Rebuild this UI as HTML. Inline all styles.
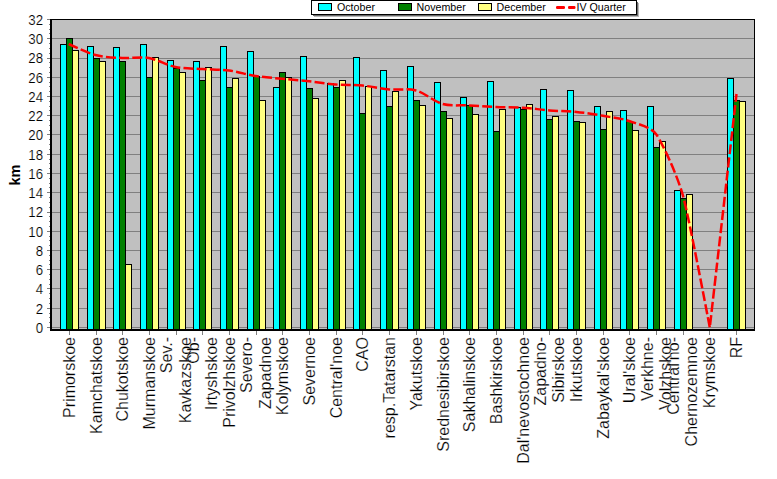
<!DOCTYPE html><html><head><meta charset="utf-8"><style>html,body{margin:0;padding:0;background:#fff;width:777px;height:479px;overflow:hidden;position:relative}</style></head><body><svg width="777" height="479" viewBox="0 0 777 479" style="position:absolute;left:0;top:0"><defs><clipPath id="pc"><rect x="52" y="20" width="702" height="309"/></clipPath></defs><g shape-rendering="crispEdges"><rect x="52" y="19" width="702" height="310" fill="#c0c0c0"/><rect x="52" y="327" width="702" height="1" fill="#808080"/><rect x="52" y="308" width="702" height="1" fill="#808080"/><rect x="52" y="288" width="702" height="1" fill="#808080"/><rect x="52" y="269" width="702" height="1" fill="#808080"/><rect x="52" y="250" width="702" height="1" fill="#808080"/><rect x="52" y="231" width="702" height="1" fill="#808080"/><rect x="52" y="212" width="702" height="1" fill="#808080"/><rect x="52" y="192" width="702" height="1" fill="#808080"/><rect x="52" y="173" width="702" height="1" fill="#808080"/><rect x="52" y="154" width="702" height="1" fill="#808080"/><rect x="52" y="134" width="702" height="1" fill="#808080"/><rect x="52" y="115" width="702" height="1" fill="#808080"/><rect x="52" y="96" width="702" height="1" fill="#808080"/><rect x="52" y="77" width="702" height="1" fill="#808080"/><rect x="52" y="58" width="702" height="1" fill="#808080"/><rect x="52" y="38" width="702" height="1" fill="#808080"/><rect x="52" y="19" width="702" height="1" fill="#808080"/><rect x="60" y="44" width="7" height="285" fill="#000"/><rect x="61" y="45" width="5" height="284" fill="#00ffff"/><rect x="66" y="38" width="7" height="291" fill="#000"/><rect x="67" y="39" width="5" height="290" fill="#008000"/><rect x="72" y="50" width="7" height="279" fill="#000"/><rect x="73" y="51" width="5" height="278" fill="#ffff80"/><rect x="87" y="46" width="7" height="283" fill="#000"/><rect x="88" y="47" width="5" height="282" fill="#00ffff"/><rect x="93" y="58" width="7" height="271" fill="#000"/><rect x="94" y="59" width="5" height="270" fill="#008000"/><rect x="99" y="61" width="7" height="268" fill="#000"/><rect x="100" y="62" width="5" height="267" fill="#ffff80"/><rect x="113" y="47" width="7" height="282" fill="#000"/><rect x="114" y="48" width="5" height="281" fill="#00ffff"/><rect x="119" y="61" width="7" height="268" fill="#000"/><rect x="120" y="62" width="5" height="267" fill="#008000"/><rect x="125" y="264" width="7" height="65" fill="#000"/><rect x="126" y="265" width="5" height="64" fill="#ffff80"/><rect x="140" y="44" width="7" height="285" fill="#000"/><rect x="141" y="45" width="5" height="284" fill="#00ffff"/><rect x="146" y="77" width="7" height="252" fill="#000"/><rect x="147" y="78" width="5" height="251" fill="#008000"/><rect x="152" y="57" width="7" height="272" fill="#000"/><rect x="153" y="58" width="5" height="271" fill="#ffff80"/><rect x="167" y="60" width="7" height="269" fill="#000"/><rect x="168" y="61" width="5" height="268" fill="#00ffff"/><rect x="173" y="68" width="7" height="261" fill="#000"/><rect x="174" y="69" width="5" height="260" fill="#008000"/><rect x="179" y="72" width="7" height="257" fill="#000"/><rect x="180" y="73" width="5" height="256" fill="#ffff80"/><rect x="193" y="61" width="7" height="268" fill="#000"/><rect x="194" y="62" width="5" height="267" fill="#00ffff"/><rect x="199" y="80" width="7" height="249" fill="#000"/><rect x="200" y="81" width="5" height="248" fill="#008000"/><rect x="205" y="67" width="7" height="262" fill="#000"/><rect x="206" y="68" width="5" height="261" fill="#ffff80"/><rect x="220" y="46" width="7" height="283" fill="#000"/><rect x="221" y="47" width="5" height="282" fill="#00ffff"/><rect x="226" y="87" width="7" height="242" fill="#000"/><rect x="227" y="88" width="5" height="241" fill="#008000"/><rect x="232" y="78" width="7" height="251" fill="#000"/><rect x="233" y="79" width="5" height="250" fill="#ffff80"/><rect x="247" y="51" width="7" height="278" fill="#000"/><rect x="248" y="52" width="5" height="277" fill="#00ffff"/><rect x="253" y="76" width="7" height="253" fill="#000"/><rect x="254" y="77" width="5" height="252" fill="#008000"/><rect x="259" y="100" width="7" height="229" fill="#000"/><rect x="260" y="101" width="5" height="228" fill="#ffff80"/><rect x="273" y="87" width="7" height="242" fill="#000"/><rect x="274" y="88" width="5" height="241" fill="#00ffff"/><rect x="279" y="72" width="7" height="257" fill="#000"/><rect x="280" y="73" width="5" height="256" fill="#008000"/><rect x="285" y="77" width="7" height="252" fill="#000"/><rect x="286" y="78" width="5" height="251" fill="#ffff80"/><rect x="300" y="56" width="7" height="273" fill="#000"/><rect x="301" y="57" width="5" height="272" fill="#00ffff"/><rect x="306" y="88" width="7" height="241" fill="#000"/><rect x="307" y="89" width="5" height="240" fill="#008000"/><rect x="312" y="98" width="7" height="231" fill="#000"/><rect x="313" y="99" width="5" height="230" fill="#ffff80"/><rect x="327" y="83" width="7" height="246" fill="#000"/><rect x="328" y="84" width="5" height="245" fill="#00ffff"/><rect x="333" y="87" width="7" height="242" fill="#000"/><rect x="334" y="88" width="5" height="241" fill="#008000"/><rect x="339" y="80" width="7" height="249" fill="#000"/><rect x="340" y="81" width="5" height="248" fill="#ffff80"/><rect x="353" y="57" width="7" height="272" fill="#000"/><rect x="354" y="58" width="5" height="271" fill="#00ffff"/><rect x="359" y="113" width="7" height="216" fill="#000"/><rect x="360" y="114" width="5" height="215" fill="#008000"/><rect x="365" y="86" width="7" height="243" fill="#000"/><rect x="366" y="87" width="5" height="242" fill="#ffff80"/><rect x="380" y="70" width="7" height="259" fill="#000"/><rect x="381" y="71" width="5" height="258" fill="#00ffff"/><rect x="386" y="106" width="7" height="223" fill="#000"/><rect x="387" y="107" width="5" height="222" fill="#008000"/><rect x="392" y="91" width="7" height="238" fill="#000"/><rect x="393" y="92" width="5" height="237" fill="#ffff80"/><rect x="407" y="66" width="7" height="263" fill="#000"/><rect x="408" y="67" width="5" height="262" fill="#00ffff"/><rect x="413" y="100" width="7" height="229" fill="#000"/><rect x="414" y="101" width="5" height="228" fill="#008000"/><rect x="419" y="105" width="7" height="224" fill="#000"/><rect x="420" y="106" width="5" height="223" fill="#ffff80"/><rect x="434" y="82" width="7" height="247" fill="#000"/><rect x="435" y="83" width="5" height="246" fill="#00ffff"/><rect x="440" y="111" width="7" height="218" fill="#000"/><rect x="441" y="112" width="5" height="217" fill="#008000"/><rect x="446" y="118" width="7" height="211" fill="#000"/><rect x="447" y="119" width="5" height="210" fill="#ffff80"/><rect x="460" y="97" width="7" height="232" fill="#000"/><rect x="461" y="98" width="5" height="231" fill="#00ffff"/><rect x="466" y="105" width="7" height="224" fill="#000"/><rect x="467" y="106" width="5" height="223" fill="#008000"/><rect x="472" y="114" width="7" height="215" fill="#000"/><rect x="473" y="115" width="5" height="214" fill="#ffff80"/><rect x="487" y="81" width="7" height="248" fill="#000"/><rect x="488" y="82" width="5" height="247" fill="#00ffff"/><rect x="493" y="131" width="7" height="198" fill="#000"/><rect x="494" y="132" width="5" height="197" fill="#008000"/><rect x="499" y="109" width="7" height="220" fill="#000"/><rect x="500" y="110" width="5" height="219" fill="#ffff80"/><rect x="514" y="107" width="7" height="222" fill="#000"/><rect x="515" y="108" width="5" height="221" fill="#00ffff"/><rect x="520" y="109" width="7" height="220" fill="#000"/><rect x="521" y="110" width="5" height="219" fill="#008000"/><rect x="526" y="104" width="7" height="225" fill="#000"/><rect x="527" y="105" width="5" height="224" fill="#ffff80"/><rect x="540" y="89" width="7" height="240" fill="#000"/><rect x="541" y="90" width="5" height="239" fill="#00ffff"/><rect x="546" y="119" width="7" height="210" fill="#000"/><rect x="547" y="120" width="5" height="209" fill="#008000"/><rect x="552" y="116" width="7" height="213" fill="#000"/><rect x="553" y="117" width="5" height="212" fill="#ffff80"/><rect x="567" y="90" width="7" height="239" fill="#000"/><rect x="568" y="91" width="5" height="238" fill="#00ffff"/><rect x="573" y="121" width="7" height="208" fill="#000"/><rect x="574" y="122" width="5" height="207" fill="#008000"/><rect x="579" y="122" width="7" height="207" fill="#000"/><rect x="580" y="123" width="5" height="206" fill="#ffff80"/><rect x="594" y="106" width="7" height="223" fill="#000"/><rect x="595" y="107" width="5" height="222" fill="#00ffff"/><rect x="600" y="129" width="7" height="200" fill="#000"/><rect x="601" y="130" width="5" height="199" fill="#008000"/><rect x="606" y="111" width="7" height="218" fill="#000"/><rect x="607" y="112" width="5" height="217" fill="#ffff80"/><rect x="620" y="110" width="7" height="219" fill="#000"/><rect x="621" y="111" width="5" height="218" fill="#00ffff"/><rect x="626" y="121" width="7" height="208" fill="#000"/><rect x="627" y="122" width="5" height="207" fill="#008000"/><rect x="632" y="130" width="7" height="199" fill="#000"/><rect x="633" y="131" width="5" height="198" fill="#ffff80"/><rect x="647" y="106" width="7" height="223" fill="#000"/><rect x="648" y="107" width="5" height="222" fill="#00ffff"/><rect x="653" y="147" width="7" height="182" fill="#000"/><rect x="654" y="148" width="5" height="181" fill="#008000"/><rect x="659" y="141" width="7" height="188" fill="#000"/><rect x="660" y="142" width="5" height="187" fill="#ffff80"/><rect x="674" y="190" width="7" height="139" fill="#000"/><rect x="675" y="191" width="5" height="138" fill="#00ffff"/><rect x="680" y="198" width="7" height="131" fill="#000"/><rect x="681" y="199" width="5" height="130" fill="#008000"/><rect x="686" y="194" width="7" height="135" fill="#000"/><rect x="687" y="195" width="5" height="134" fill="#ffff80"/><rect x="727" y="78" width="7" height="251" fill="#000"/><rect x="728" y="79" width="5" height="250" fill="#00ffff"/><rect x="733" y="100" width="7" height="229" fill="#000"/><rect x="734" y="101" width="5" height="228" fill="#008000"/><rect x="739" y="101" width="7" height="228" fill="#000"/><rect x="740" y="102" width="5" height="227" fill="#ffff80"/><rect x="52" y="19" width="703" height="1" fill="#000"/><rect x="754" y="19" width="1" height="311" fill="#000"/><rect x="50" y="19" width="2" height="312" fill="#000"/><rect x="50" y="329" width="705" height="2" fill="#000"/><rect x="47" y="327" width="3" height="1" fill="#808080"/><rect x="47" y="308" width="3" height="1" fill="#808080"/><rect x="47" y="288" width="3" height="1" fill="#808080"/><rect x="47" y="269" width="3" height="1" fill="#808080"/><rect x="47" y="250" width="3" height="1" fill="#808080"/><rect x="47" y="231" width="3" height="1" fill="#808080"/><rect x="47" y="212" width="3" height="1" fill="#808080"/><rect x="47" y="192" width="3" height="1" fill="#808080"/><rect x="47" y="173" width="3" height="1" fill="#808080"/><rect x="47" y="154" width="3" height="1" fill="#808080"/><rect x="47" y="134" width="3" height="1" fill="#808080"/><rect x="47" y="115" width="3" height="1" fill="#808080"/><rect x="47" y="96" width="3" height="1" fill="#808080"/><rect x="47" y="77" width="3" height="1" fill="#808080"/><rect x="47" y="58" width="3" height="1" fill="#808080"/><rect x="47" y="38" width="3" height="1" fill="#808080"/><rect x="47" y="19" width="3" height="1" fill="#808080"/><rect x="49" y="322" width="1" height="1" fill="#808080"/><rect x="49" y="317" width="1" height="1" fill="#808080"/><rect x="49" y="313" width="1" height="1" fill="#808080"/><rect x="49" y="303" width="1" height="1" fill="#808080"/><rect x="49" y="298" width="1" height="1" fill="#808080"/><rect x="49" y="293" width="1" height="1" fill="#808080"/><rect x="49" y="284" width="1" height="1" fill="#808080"/><rect x="49" y="279" width="1" height="1" fill="#808080"/><rect x="49" y="274" width="1" height="1" fill="#808080"/><rect x="49" y="264" width="1" height="1" fill="#808080"/><rect x="49" y="260" width="1" height="1" fill="#808080"/><rect x="49" y="255" width="1" height="1" fill="#808080"/><rect x="49" y="245" width="1" height="1" fill="#808080"/><rect x="49" y="240" width="1" height="1" fill="#808080"/><rect x="49" y="236" width="1" height="1" fill="#808080"/><rect x="49" y="226" width="1" height="1" fill="#808080"/><rect x="49" y="221" width="1" height="1" fill="#808080"/><rect x="49" y="216" width="1" height="1" fill="#808080"/><rect x="49" y="207" width="1" height="1" fill="#808080"/><rect x="49" y="202" width="1" height="1" fill="#808080"/><rect x="49" y="197" width="1" height="1" fill="#808080"/><rect x="49" y="187" width="1" height="1" fill="#808080"/><rect x="49" y="183" width="1" height="1" fill="#808080"/><rect x="49" y="178" width="1" height="1" fill="#808080"/><rect x="49" y="168" width="1" height="1" fill="#808080"/><rect x="49" y="163" width="1" height="1" fill="#808080"/><rect x="49" y="159" width="1" height="1" fill="#808080"/><rect x="49" y="149" width="1" height="1" fill="#808080"/><rect x="49" y="144" width="1" height="1" fill="#808080"/><rect x="49" y="139" width="1" height="1" fill="#808080"/><rect x="49" y="130" width="1" height="1" fill="#808080"/><rect x="49" y="125" width="1" height="1" fill="#808080"/><rect x="49" y="120" width="1" height="1" fill="#808080"/><rect x="49" y="110" width="1" height="1" fill="#808080"/><rect x="49" y="106" width="1" height="1" fill="#808080"/><rect x="49" y="101" width="1" height="1" fill="#808080"/><rect x="49" y="91" width="1" height="1" fill="#808080"/><rect x="49" y="86" width="1" height="1" fill="#808080"/><rect x="49" y="82" width="1" height="1" fill="#808080"/><rect x="49" y="72" width="1" height="1" fill="#808080"/><rect x="49" y="67" width="1" height="1" fill="#808080"/><rect x="49" y="62" width="1" height="1" fill="#808080"/><rect x="49" y="53" width="1" height="1" fill="#808080"/><rect x="49" y="48" width="1" height="1" fill="#808080"/><rect x="49" y="43" width="1" height="1" fill="#808080"/><rect x="49" y="33" width="1" height="1" fill="#808080"/><rect x="49" y="29" width="1" height="1" fill="#808080"/><rect x="49" y="24" width="1" height="1" fill="#808080"/><rect x="69" y="331" width="1" height="4" fill="#808080"/><rect x="96" y="331" width="1" height="4" fill="#808080"/><rect x="122" y="331" width="1" height="4" fill="#808080"/><rect x="149" y="331" width="1" height="4" fill="#808080"/><rect x="176" y="331" width="1" height="4" fill="#808080"/><rect x="202" y="331" width="1" height="4" fill="#808080"/><rect x="229" y="331" width="1" height="4" fill="#808080"/><rect x="256" y="331" width="1" height="4" fill="#808080"/><rect x="282" y="331" width="1" height="4" fill="#808080"/><rect x="309" y="331" width="1" height="4" fill="#808080"/><rect x="336" y="331" width="1" height="4" fill="#808080"/><rect x="362" y="331" width="1" height="4" fill="#808080"/><rect x="389" y="331" width="1" height="4" fill="#808080"/><rect x="416" y="331" width="1" height="4" fill="#808080"/><rect x="443" y="331" width="1" height="4" fill="#808080"/><rect x="469" y="331" width="1" height="4" fill="#808080"/><rect x="496" y="331" width="1" height="4" fill="#808080"/><rect x="523" y="331" width="1" height="4" fill="#808080"/><rect x="549" y="331" width="1" height="4" fill="#808080"/><rect x="576" y="331" width="1" height="4" fill="#808080"/><rect x="603" y="331" width="1" height="4" fill="#808080"/><rect x="629" y="331" width="1" height="4" fill="#808080"/><rect x="656" y="331" width="1" height="4" fill="#808080"/><rect x="683" y="331" width="1" height="4" fill="#808080"/><rect x="709" y="331" width="1" height="4" fill="#808080"/><rect x="736" y="331" width="1" height="4" fill="#808080"/></g><path d="M68.70,44.00 C68.70,44.00 86.83,52.75 95.41,55.00 C104.00,57.25 113.25,57.50 122.12,58.00 C131.00,58.50 140.17,56.54 148.84,58.00 C157.50,59.46 166.87,65.21 175.55,67.00 C184.23,68.79 193.36,68.42 202.26,69.00 C211.16,69.58 220.15,69.34 228.97,70.50 C237.79,71.66 246.85,74.63 255.68,76.00 C264.52,77.37 273.50,77.92 282.40,78.80 C291.30,79.68 300.22,80.35 309.11,81.30 C318.00,82.25 326.94,83.79 335.82,84.50 C344.70,85.21 353.67,84.79 362.53,85.60 C371.40,86.41 380.38,88.59 389.24,89.40 C398.11,90.21 407.55,88.20 415.96,90.50 C424.36,92.80 434.26,101.66 442.67,104.00 C451.07,106.34 460.48,104.90 469.38,105.40 C478.28,105.90 487.19,106.62 496.09,107.00 C504.99,107.38 513.92,107.13 522.80,107.70 C531.69,108.27 540.63,109.70 549.52,110.40 C558.40,111.10 567.36,111.00 576.23,111.90 C585.09,112.80 594.08,114.26 602.94,115.80 C611.80,117.34 621.15,118.22 629.65,121.20 C638.15,124.18 650.88,126.82 656.36,134.50 C661.85,142.18 677.14,174.56 683.08,196.00 C689.01,217.44 709.79,327.50 709.79,327.50 C709.79,327.50 736.50,94.00 736.50,94.00" fill="none" stroke="#ff0000" stroke-width="2.5" stroke-dasharray="10 3.2" clip-path="url(#pc)"/><text transform="translate(43,332.80) scale(0.855,1)" text-anchor="end" font-family="Liberation Sans" font-size="15.5" fill="#000" stroke="#fff" stroke-width="0.18">0</text><text transform="translate(43,313.55) scale(0.855,1)" text-anchor="end" font-family="Liberation Sans" font-size="15.5" fill="#000" stroke="#fff" stroke-width="0.18">2</text><text transform="translate(43,294.30) scale(0.855,1)" text-anchor="end" font-family="Liberation Sans" font-size="15.5" fill="#000" stroke="#fff" stroke-width="0.18">4</text><text transform="translate(43,275.05) scale(0.855,1)" text-anchor="end" font-family="Liberation Sans" font-size="15.5" fill="#000" stroke="#fff" stroke-width="0.18">6</text><text transform="translate(43,255.80) scale(0.855,1)" text-anchor="end" font-family="Liberation Sans" font-size="15.5" fill="#000" stroke="#fff" stroke-width="0.18">8</text><text transform="translate(43,236.55) scale(0.855,1)" text-anchor="end" font-family="Liberation Sans" font-size="15.5" fill="#000" stroke="#fff" stroke-width="0.18">10</text><text transform="translate(43,217.30) scale(0.855,1)" text-anchor="end" font-family="Liberation Sans" font-size="15.5" fill="#000" stroke="#fff" stroke-width="0.18">12</text><text transform="translate(43,198.05) scale(0.855,1)" text-anchor="end" font-family="Liberation Sans" font-size="15.5" fill="#000" stroke="#fff" stroke-width="0.18">14</text><text transform="translate(43,178.80) scale(0.855,1)" text-anchor="end" font-family="Liberation Sans" font-size="15.5" fill="#000" stroke="#fff" stroke-width="0.18">16</text><text transform="translate(43,159.55) scale(0.855,1)" text-anchor="end" font-family="Liberation Sans" font-size="15.5" fill="#000" stroke="#fff" stroke-width="0.18">18</text><text transform="translate(43,140.30) scale(0.855,1)" text-anchor="end" font-family="Liberation Sans" font-size="15.5" fill="#000" stroke="#fff" stroke-width="0.18">20</text><text transform="translate(43,121.05) scale(0.855,1)" text-anchor="end" font-family="Liberation Sans" font-size="15.5" fill="#000" stroke="#fff" stroke-width="0.18">22</text><text transform="translate(43,101.80) scale(0.855,1)" text-anchor="end" font-family="Liberation Sans" font-size="15.5" fill="#000" stroke="#fff" stroke-width="0.18">24</text><text transform="translate(43,82.55) scale(0.855,1)" text-anchor="end" font-family="Liberation Sans" font-size="15.5" fill="#000" stroke="#fff" stroke-width="0.18">26</text><text transform="translate(43,63.30) scale(0.855,1)" text-anchor="end" font-family="Liberation Sans" font-size="15.5" fill="#000" stroke="#fff" stroke-width="0.18">28</text><text transform="translate(43,44.05) scale(0.855,1)" text-anchor="end" font-family="Liberation Sans" font-size="15.5" fill="#000" stroke="#fff" stroke-width="0.18">30</text><text transform="translate(43,24.80) scale(0.855,1)" text-anchor="end" font-family="Liberation Sans" font-size="15.5" fill="#000" stroke="#fff" stroke-width="0.18">32</text><text transform="translate(20,175) rotate(-90)" text-anchor="middle" font-family="Liberation Sans" font-weight="bold" font-size="14.5" fill="#000">km</text><text transform="translate(75.00,337) rotate(-90)" text-anchor="end" font-family="Liberation Sans" font-size="16" fill="#000" stroke="#fff" stroke-width="0.2">Primorskoe</text><text transform="translate(101.68,337) rotate(-90)" text-anchor="end" font-family="Liberation Sans" font-size="16" fill="#000" stroke="#fff" stroke-width="0.2">Kamchatskoe</text><text transform="translate(128.36,337) rotate(-90)" text-anchor="end" font-family="Liberation Sans" font-size="16" fill="#000" stroke="#fff" stroke-width="0.2">Chukotskoe</text><text transform="translate(155.04,337) rotate(-90)" text-anchor="end" font-family="Liberation Sans" font-size="16" fill="#000" stroke="#fff" stroke-width="0.2">Murmanskoe</text><text transform="translate(172.42,337) rotate(-90)" text-anchor="end" font-family="Liberation Sans" font-size="16" fill="#000" stroke="#fff" stroke-width="0.2">Sev.-</text><text transform="translate(190.52,337) rotate(-90)" text-anchor="end" font-family="Liberation Sans" font-size="16" fill="#000" stroke="#fff" stroke-width="0.2">Kavkazskoe</text><text transform="translate(199.10,337) rotate(-90)" text-anchor="end" font-family="Liberation Sans" font-size="16" fill="#000" stroke="#fff" stroke-width="0.2">Ob-</text><text transform="translate(217.20,337) rotate(-90)" text-anchor="end" font-family="Liberation Sans" font-size="16" fill="#000" stroke="#fff" stroke-width="0.2">Irtyshskoe</text><text transform="translate(235.08,337) rotate(-90)" text-anchor="end" font-family="Liberation Sans" font-size="16" fill="#000" stroke="#fff" stroke-width="0.2">Privolzhskoe</text><text transform="translate(252.46,337) rotate(-90)" text-anchor="end" font-family="Liberation Sans" font-size="16" fill="#000" stroke="#fff" stroke-width="0.2">Severo-</text><text transform="translate(270.56,337) rotate(-90)" text-anchor="end" font-family="Liberation Sans" font-size="16" fill="#000" stroke="#fff" stroke-width="0.2">Zapadnoe</text><text transform="translate(288.44,337) rotate(-90)" text-anchor="end" font-family="Liberation Sans" font-size="16" fill="#000" stroke="#fff" stroke-width="0.2">Kolymskoe</text><text transform="translate(315.12,337) rotate(-90)" text-anchor="end" font-family="Liberation Sans" font-size="16" fill="#000" stroke="#fff" stroke-width="0.2">Severnoe</text><text transform="translate(341.80,337) rotate(-90)" text-anchor="end" font-family="Liberation Sans" font-size="16" fill="#000" stroke="#fff" stroke-width="0.2">Central'noe</text><text transform="translate(368.48,337) rotate(-90)" text-anchor="end" font-family="Liberation Sans" font-size="16" fill="#000" stroke="#fff" stroke-width="0.2">CAO</text><text transform="translate(395.16,337) rotate(-90)" text-anchor="end" font-family="Liberation Sans" font-size="16" fill="#000" stroke="#fff" stroke-width="0.2">resp.Tatarstan</text><text transform="translate(421.84,337) rotate(-90)" text-anchor="end" font-family="Liberation Sans" font-size="16" fill="#000" stroke="#fff" stroke-width="0.2">Yakutskoe</text><text transform="translate(448.52,337) rotate(-90)" text-anchor="end" font-family="Liberation Sans" font-size="16" fill="#000" stroke="#fff" stroke-width="0.2">Srednesibirskoe</text><text transform="translate(475.20,337) rotate(-90)" text-anchor="end" font-family="Liberation Sans" font-size="16" fill="#000" stroke="#fff" stroke-width="0.2">Sakhalinskoe</text><text transform="translate(501.88,337) rotate(-90)" text-anchor="end" font-family="Liberation Sans" font-size="16" fill="#000" stroke="#fff" stroke-width="0.2">Bashkirskoe</text><text transform="translate(528.56,337) rotate(-90)" text-anchor="end" font-family="Liberation Sans" font-size="16" fill="#000" stroke="#fff" stroke-width="0.2">Dal'nevostochnoe</text><text transform="translate(545.94,337) rotate(-90)" text-anchor="end" font-family="Liberation Sans" font-size="16" fill="#000" stroke="#fff" stroke-width="0.2">Zapadno-</text><text transform="translate(564.04,337) rotate(-90)" text-anchor="end" font-family="Liberation Sans" font-size="16" fill="#000" stroke="#fff" stroke-width="0.2">Sibirskoe</text><text transform="translate(581.92,337) rotate(-90)" text-anchor="end" font-family="Liberation Sans" font-size="16" fill="#000" stroke="#fff" stroke-width="0.2">Irkutskoe</text><text transform="translate(608.60,337) rotate(-90)" text-anchor="end" font-family="Liberation Sans" font-size="16" fill="#000" stroke="#fff" stroke-width="0.2">Zabaykal'skoe</text><text transform="translate(635.28,337) rotate(-90)" text-anchor="end" font-family="Liberation Sans" font-size="16" fill="#000" stroke="#fff" stroke-width="0.2">Ural'skoe</text><text transform="translate(652.66,337) rotate(-90)" text-anchor="end" font-family="Liberation Sans" font-size="16" fill="#000" stroke="#fff" stroke-width="0.2">Verkhne-</text><text transform="translate(670.76,337) rotate(-90)" text-anchor="end" font-family="Liberation Sans" font-size="16" fill="#000" stroke="#fff" stroke-width="0.2">Volzhskoe</text><text transform="translate(679.34,337) rotate(-90)" text-anchor="end" font-family="Liberation Sans" font-size="16" fill="#000" stroke="#fff" stroke-width="0.2">Central'no-</text><text transform="translate(697.44,337) rotate(-90)" text-anchor="end" font-family="Liberation Sans" font-size="16" fill="#000" stroke="#fff" stroke-width="0.2">Chernozemnoe</text><text transform="translate(715.32,337) rotate(-90)" text-anchor="end" font-family="Liberation Sans" font-size="16" fill="#000" stroke="#fff" stroke-width="0.2">Krymskoe</text><text transform="translate(742.00,337) rotate(-90)" text-anchor="end" font-family="Liberation Sans" font-size="16" fill="#000" stroke="#fff" stroke-width="0.2">RF</text><g shape-rendering="crispEdges"><rect x="313" y="15" width="325" height="1" fill="#6a6a6a"/><rect x="314" y="16" width="325" height="1" fill="#b8b8b8"/><rect x="637" y="2" width="1" height="14" fill="#6a6a6a"/><rect x="638" y="3" width="1" height="14" fill="#b8b8b8"/><rect x="311" y="0" width="326" height="15" fill="#000"/><rect x="312" y="1" width="324" height="13" fill="#fff"/><rect x="318" y="3" width="14" height="8" fill="#000"/><rect x="319" y="4" width="12" height="6" fill="#00ffff"/><rect x="398" y="3" width="14" height="8" fill="#000"/><rect x="399" y="4" width="12" height="6" fill="#008000"/><rect x="478" y="3" width="14" height="8" fill="#000"/><rect x="479" y="4" width="12" height="6" fill="#ffff80"/></g><rect x="556" y="6" width="9" height="3" rx="1.2" fill="#ff0000"/><rect x="568" y="6" width="7.5" height="3" rx="1.2" fill="#ff0000"/><text transform="translate(337,11) scale(0.97,1)" font-family="Liberation Sans" font-size="11" fill="#000">October</text><text transform="translate(416.5,11) scale(0.97,1)" font-family="Liberation Sans" font-size="11" fill="#000">November</text><text transform="translate(496.5,11) scale(0.97,1)" font-family="Liberation Sans" font-size="11" fill="#000">December</text><text transform="translate(576.5,11) scale(0.97,1)" font-family="Liberation Sans" font-size="11" fill="#000">IV Quarter</text></svg></body></html>
